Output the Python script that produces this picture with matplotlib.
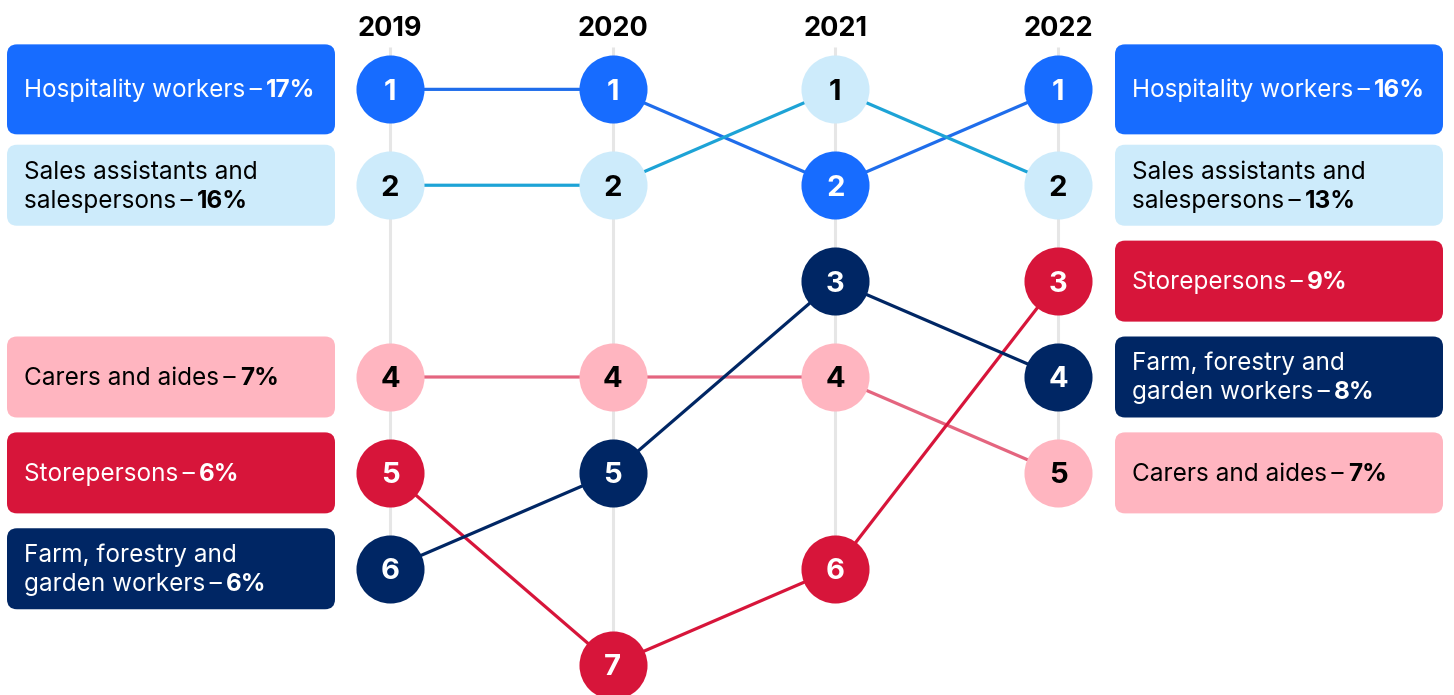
import matplotlib.pyplot as plt
from matplotlib.patches import FancyBboxPatch

plt.rcParams['font.family'] = ['Inter', 'DejaVu Sans']

# ---- data -------------------------------------------------------------
years = [2019, 2020, 2021, 2022]

occupations = [
    "Hospitality workers",
    "Sales assistants and\nsalespersons",
    "Carers and aides",
    "Storepersons",
    "Farm, forestry and\ngarden workers",
]

# rank of each occupation in each year (1 = most common)
hospitality_rank = [1, 1, 2, 1]
sales_rank = [2, 2, 1, 2]
carers_rank = [4, 4, 4, 5]
storepersons_rank = [5, 7, 6, 3]
farm_rank = [6, 5, 3, 4]
ranks = [hospitality_rank, sales_rank, carers_rank, storepersons_rank, farm_rank]

# share of workers, same order as occupations
share_2019 = ["17%", "16%", "7%", "6%", "6%"]
share_2022 = ["16%", "13%", "7%", "9%", "8%"]

# ---- styling ----------------------------------------------------------
fills = ["#176CFF", "#CDEBFB", "#FFB5C0", "#D7153A", "#002664"]
lines = ["#1F6DEB", "#1DA3D6", "#E4657F", "#D7153A", "#002664"]
inks = ["white", "black", "black", "white", "white"]

PX_X = 222.67          # pixels per year
PX_Y = 95.88           # pixels per rank step
X0 = 2019 - 390 / PX_X
Y0 = 4 - 377 / PX_Y

fig = plt.figure(figsize=(14.54, 6.95), dpi=100)
ax = fig.add_axes([0, 0, 1, 1])
ax.set_xlim(X0, X0 + 1454 / PX_X)
ax.set_ylim(Y0 + 695 / PX_Y, Y0)
ax.axis('off')

# grey guides under each year, down to the lowest rank shown that year
top_guide = Y0 + 47 / PX_Y
for i, yr in enumerate(years):
    lowest = max(r[i] for r in ranks)
    ax.plot([yr, yr], [top_guide, lowest], color="#E6E6E6", lw=2.2, zorder=0,
            solid_capstyle='butt')
    ax.text(yr, Y0 + 29 / PX_Y, str(yr), ha='center', va='center',
            fontsize=19.5, fontweight='bold', color='black')

# connecting lines and rank circles
for r, lc, fc, ink in zip(ranks, lines, fills, inks):
    ax.plot(years, r, color=lc, lw=2.3, zorder=2)
    ax.plot(years, r, 'o', ms=49, color=fc, mec='none', zorder=3)
    for yr, val in zip(years, r):
        ax.text(yr, val, str(val), ha='center', va='center_baseline',
                fontsize=21, fontweight='bold', color=ink, zorder=4)

# ---- labels in rounded boxes -----------------------------------------
renderer = fig.canvas.get_renderer()
BOX_W = 328 / PX_X
ROUND = 10 / PX_X
ASPECT = (10 / PX_Y) / ROUND
PAD = 17 / PX_X
LINE_GAP = 29 / PX_Y
BASE = 8 / PX_Y
FS = 17.5


def label_box(x_left, rank, name, pct, fill, ink):
    h = (90 if rank == 1 else 81) / PX_Y
    ax.add_patch(FancyBboxPatch(
        (x_left, rank - h / 2), BOX_W, h,
        boxstyle=f"round,pad=0,rounding_size={ROUND}",
        mutation_aspect=ASPECT, fc=fill, ec='none', zorder=1))
    parts = name.split("\n")
    n = len(parts)
    for k, part in enumerate(parts):
        y = rank + (k - (n - 1) / 2) * LINE_GAP + BASE
        last = k == n - 1
        t = ax.text(x_left + PAD, y, part + ("\u2009–\u2009" if last else ""),
                    ha='left', va='baseline', fontsize=FS, color=ink, zorder=2)
        if last:
            bb = t.get_window_extent(renderer)
            x_end = ax.transData.inverted().transform((bb.x1, bb.y0))[0]
            ax.text(x_end, y, pct, ha='left', va='baseline', fontsize=FS,
                    fontweight='bold', color=ink, zorder=2)


left_x = X0 + 7 / PX_X
right_x = X0 + 1115 / PX_X
for name, r, p19, p22, fc, ink in zip(occupations, ranks, share_2019, share_2022,
                                       fills, inks):
    label_box(left_x, r[0], name, p19, fc, ink)
    label_box(right_x, r[-1], name, p22, fc, ink)

fig.savefig("out.png", dpi=100)
